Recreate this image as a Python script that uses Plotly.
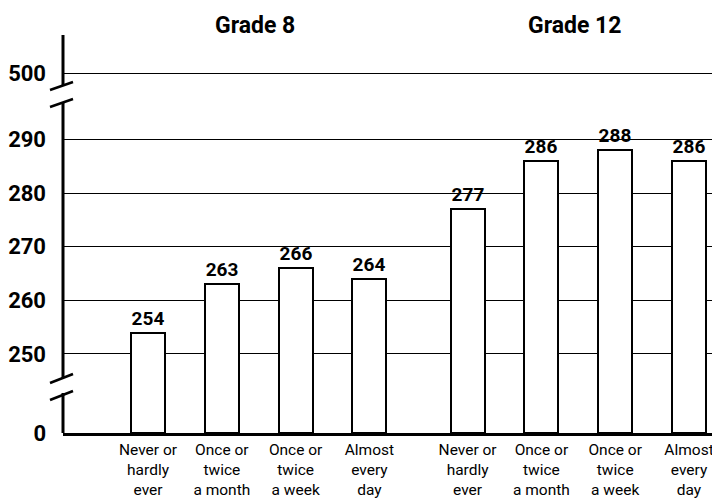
import plotly.graph_objects as go

# data (average scores)
grades = ['Grade 8', 'Grade 12']
answers = ['Never or<br>hardly<br>ever', 'Once or<br>twice<br>a month',
           'Once or<br>twice<br>a week', 'Almost<br>every<br>day']
grade8 = [254, 263, 266, 264]
grade12 = [277, 286, 288, 286]
y_ticks = [0, 250, 260, 270, 280, 290, 500]

FONT = 'Roboto, Liberation Sans, sans-serif'

# broken y axis: 250..290 drawn to scale, 0 and 500 pulled in next to it
ZERO_AT = 235.26
TOP_AT = 302.3


def brk(v):
    if v <= 0:
        return ZERO_AT
    if v >= 500:
        return TOP_AT
    return v


GAP = 1.33  # extra space between the two grade groups
xpos8 = [i for i in range(len(answers))]
xpos12 = [i + len(answers) + GAP - 1 for i in range(len(answers))]

# the page body has an 8px margin, so the figure is drawn 8px smaller
OFF = 8
W, H = 720 - OFF, 503 - OFF
ML, MR, MT, MB = 63 - OFF, 0, 35 - OFF, 70


def px(x):
    return (x - OFF - ML) / (W - ML - MR)


def py(y):
    return (H - MB - (y - OFF)) / (H - MT - MB)


fig = go.Figure()
for xs, vals in [(xpos8, grade8), (xpos12, grade12)]:
    fig.add_trace(go.Bar(
        x=xs,
        y=[brk(v) - brk(0) for v in vals],
        base=brk(0),
        width=0.46,
        marker=dict(color='white', line=dict(color='black', width=2)),
        text=[str(v) for v in vals],
        textposition='outside',
        constraintext='none',
        cliponaxis=False,
        textfont=dict(family=FONT, size=19, color='black', weight='bold'),
        showlegend=False,
    ))

for g, xs in zip(grades, [xpos8, xpos12]):
    fig.add_annotation(x=sum(xs) / len(xs) - 0.05, y=py(25), xref='x', yref='paper',
                       text=g, showarrow=False, yanchor='middle',
                       font=dict(family=FONT, size=23, color='black', weight='bold'))

# y axis line with break marks
line = dict(color='black', width=3)
for y0, y1 in [(35, 85), (103, 378), (393, 433)]:
    fig.add_shape(type='line', xref='paper', yref='paper',
                  x0=px(63), x1=px(63), y0=py(y0), y1=py(y1), line=line)
for (x0, y0), (x1, y1) in [((50, 90), (73, 82)), ((50, 107), (73, 99)),
                           ((50, 383), (73, 374)), ((50, 400), (73, 391))]:
    fig.add_shape(type='line', xref='paper', yref='paper',
                  x0=px(x0), x1=px(x1), y0=py(y0), y1=py(y1),
                  line=dict(color='black', width=2.5))

fig.update_xaxes(
    range=[-1.152, 7.75],
    tickvals=xpos8 + xpos12,
    ticktext=answers + answers,
    tickfont=dict(family=FONT, size=15.5, color='black'),
    showline=True, linecolor='black', linewidth=3,
    showgrid=False, zeroline=False, ticks='', automargin=False,
)
fig.update_yaxes(
    range=[ZERO_AT, 309.5],
    tickvals=[brk(t) for t in y_ticks],
    ticktext=[str(t) for t in y_ticks],
    tickfont=dict(family=FONT, size=22, color='black', weight='bold'),
    showgrid=True, gridcolor='black', gridwidth=1,
    showline=False, zeroline=False, ticks='', ticklabelstandoff=16,
    automargin=False,
)
fig.update_layout(
    width=W, height=H,
    margin=dict(l=ML, r=MR, t=MT, b=MB),
    plot_bgcolor='white', paper_bgcolor='white',
    bargap=0,
)

fig.write_html('out.html')
